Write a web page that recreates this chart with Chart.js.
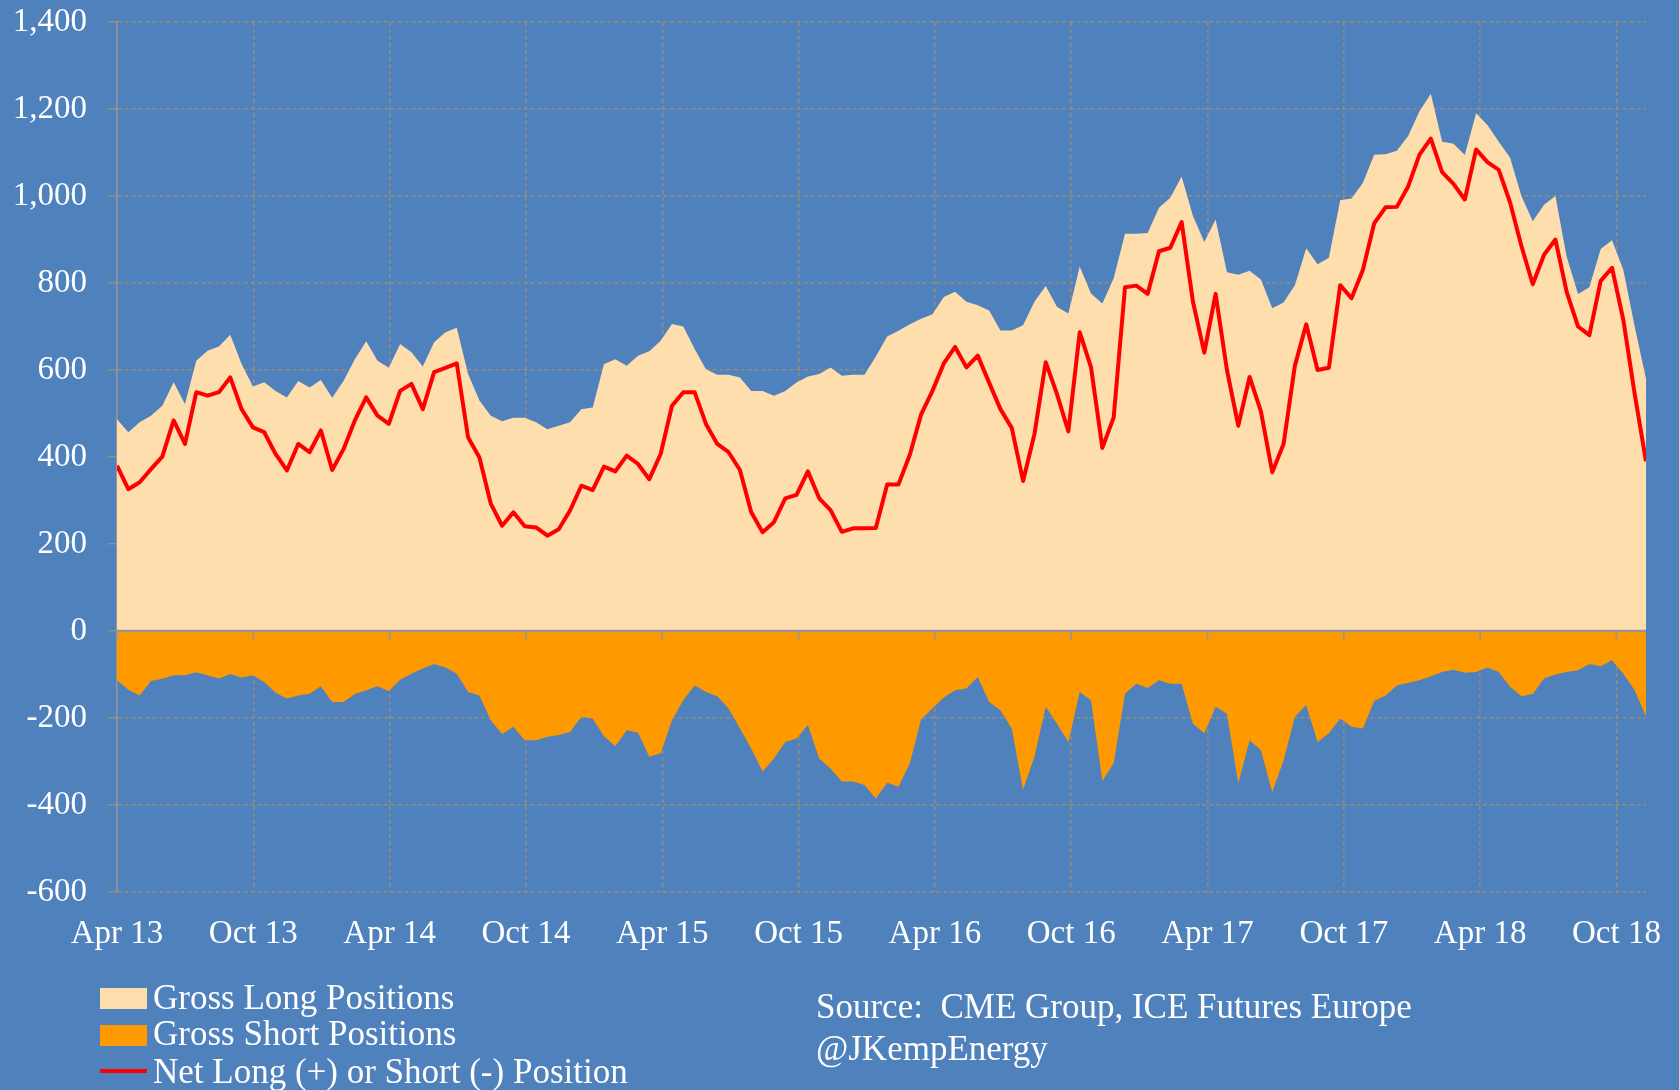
<!DOCTYPE html>
<html>
<head>
<meta charset="utf-8">
<script src="https://cdn.jsdelivr.net/npm/chart.js@4.4.1/dist/chart.umd.min.js"></script>
<style>
html, body { margin: 0; padding: 0; background: #4F81BD; overflow: hidden; }
#wrap { position: relative; width: 1679px; height: 1090px; overflow: hidden; background: #4F81BD; }
#c { position: absolute; left: 0; top: 0; }
.t { position: absolute; color: #ffffff; font-family: 'Liberation Serif', serif; font-size: 35px; line-height: 35px; white-space: pre; }
.sw { position: absolute; }
</style>
</head>
<body>
<div id="wrap">
  <canvas id="c" width="1679" height="1090"></canvas>
  <div class="sw" style="left:100px;top:988px;width:47px;height:21px;background:#FFDEAD;"></div>
  <div class="t" style="left:153px;top:980px;">Gross Long Positions</div>
  <div class="sw" style="left:100px;top:1025px;width:47px;height:21px;background:#FF9900;"></div>
  <div class="t" style="left:153px;top:1016px;">Gross Short Positions</div>
  <div class="sw" style="left:100px;top:1069px;width:47px;height:4px;background:#FF0000;"></div>
  <div class="t" style="left:153px;top:1054px;">Net Long (+) or Short (-) Position</div>
  <div class="t" style="left:816px;top:989px;">Source:  CME Group, ICE Futures Europe</div>
  <div class="t" style="left:816px;top:1031px;">@JKempEnergy</div>
</div>
<script>
// sample positions in months since April 2013 (0 = Apr 13), ~half-month steps up to mid-Nov 2018
const lastMonth = 67.3;
const sampleMonths = Array.from({length: 136}, (_, i) => i * lastMonth / 135);

// tick positions (months since Apr 2013) and their labels
const tickMonths = [0, 6, 12, 18, 24, 30, 36, 42, 48, 54, 60, 66];
const tickLabels = ['Apr 13', 'Oct 13', 'Apr 14', 'Oct 14', 'Apr 15', 'Oct 15',
                    'Apr 16', 'Oct 16', 'Apr 17', 'Oct 17', 'Apr 18', 'Oct 18'];

// Gross long positions
const grossLong = [
  487,457,480,495,518,572,522,621,644,654,
  681,614,562,572,552,537,575,560,577,536,
  575,625,666,621,605,660,641,608,664,687,
  697,591,530,495,482,490,490,480,464,472,
  480,510,514,614,625,610,633,643,667,706,
  700,648,602,589,589,583,552,552,541,552,
  571,585,591,606,587,589,589,631,677,690,
  705,718,728,768,780,757,749,737,691,691,
  703,757,793,745,730,838,776,753,811,913,
  913,915,973,996,1045,954,894,946,825,819,
  828,808,742,755,795,880,843,858,990,994,
  1030,1095,1096,1104,1138,1195,1235,1125,1120,1094,
  1190,1163,1125,1088,1000,942,980,1000,860,775,
  790,878,898,830,700,580
];

// Gross short positions (shown negative)
const grossShort = [
  -113,-135,-148,-115,-110,-102,-102,-95,-102,-109,
  -99,-107,-102,-117,-142,-155,-148,-144,-127,-163,
  -163,-145,-136,-127,-138,-112,-98,-86,-76,-84,
  -98,-140,-148,-205,-237,-220,-251,-251,-243,-239,
  -232,-197,-201,-242,-265,-228,-234,-289,-281,-205,
  -159,-125,-140,-150,-178,-224,-270,-323,-293,-255,
  -247,-216,-293,-316,-346,-346,-354,-385,-349,-358,
  -304,-203,-178,-153,-136,-132,-106,-163,-182,-224,
  -365,-289,-174,-213,-255,-140,-159,-345,-304,-144,
  -121,-131,-113,-121,-121,-213,-235,-174,-190,-350,
  -251,-274,-370,-297,-197,-170,-255,-235,-201,-220,
  -224,-161,-148,-125,-119,-113,-104,-94,-89,-96,
  -94,-84,-94,-128,-150,-145,-109,-100,-94,-90,
  -76,-81,-67,-98,-136,-196
];

// Net long (+) or short (-) position
const netPosition = [
  380,326,342,372,401,484,430,549,541,549,
  583,510,468,457,407,369,430,411,461,370,
  418,484,537,495,476,552,568,510,595,605,
  615,445,399,293,242,273,241,238,219,234,
  277,334,324,378,367,403,384,349,407,518,
  549,549,476,430,411,370,273,227,250,305,
  313,367,305,278,228,236,236,237,337,337,
  405,498,552,615,653,606,633,571,510,467,
  345,452,618,544,459,687,606,421,491,790,
  794,775,873,881,940,757,640,775,600,472,
  584,505,365,430,610,705,600,605,795,765,
  830,937,974,975,1022,1095,1132,1055,1028,992,
  1107,1078,1060,985,885,797,865,900,779,700,
  680,805,835,715,545,390
];

const toPoints = arr => arr.map((v, i) => ({x: sampleMonths[i], y: v}));

const gridColor = 'rgb(148,141,126)';
const axisGray = 'rgb(150,150,150)';

const zeroLine = {
  id: 'zeroLine',
  afterDatasetsDraw(chart) {
    const {ctx, chartArea, scales} = chart;
    const y0 = scales.y.getPixelForValue(0);
    ctx.save();
    ctx.strokeStyle = axisGray;
    ctx.lineWidth = 2.5;
    ctx.beginPath();
    ctx.moveTo(chartArea.left, y0);
    ctx.lineTo(chartArea.right, y0);
    ctx.stroke();
    ctx.lineWidth = 1.5;
    scales.x.ticks.forEach(t => {
      const px = scales.x.getPixelForValue(t.value);
      ctx.beginPath();
      ctx.moveTo(px, y0);
      ctx.lineTo(px, y0 + 9);
      ctx.stroke();
    });
    ctx.restore();
  }
};

Chart.defaults.font.family = "'Liberation Serif', serif";
Chart.defaults.color = '#ffffff';

new Chart(document.getElementById('c'), {
  type: 'line',
  data: {
    datasets: [
      {
        label: 'Net Long (+) or Short (-) Position',
        data: toPoints(netPosition),
        borderColor: '#FF0000',
        borderWidth: 4,
        borderJoinStyle: 'round',
        fill: false,
        pointRadius: 0,
        tension: 0,
        order: 0
      },
      {
        label: 'Gross Long Positions',
        data: toPoints(grossLong),
        borderColor: 'rgba(0,0,0,0)',
        borderWidth: 0,
        backgroundColor: '#FFDEAD',
        fill: 'origin',
        pointRadius: 0,
        tension: 0,
        order: 1
      },
      {
        label: 'Gross Short Positions',
        data: toPoints(grossShort),
        borderColor: 'rgba(0,0,0,0)',
        borderWidth: 0,
        backgroundColor: '#FF9900',
        fill: 'origin',
        pointRadius: 0,
        tension: 0,
        order: 2
      }
    ]
  },
  options: {
    responsive: false,
    animation: false,
    devicePixelRatio: 1,
    layout: { padding: { top: 22, right: 33, left: 0, bottom: 0 } },
    plugins: {
      legend: { display: false },
      tooltip: { enabled: false }
    },
    scales: {
      x: {
        type: 'linear',
        min: 0,
        max: lastMonth,
        afterBuildTicks: scale => { scale.ticks = tickMonths.map(v => ({value: v})); },
        afterFit: scale => { scale.height = 198; scale.paddingLeft = 0; scale.paddingRight = 0; },
        ticks: {
          autoSkip: false,
          maxRotation: 0,
          padding: 23,
          color: '#ffffff',
          font: { size: 33 },
          callback: v => { const k = tickMonths.indexOf(v); return k >= 0 ? tickLabels[k] : ''; }
        },
        grid: { color: gridColor, lineWidth: 1.5, drawTicks: false },
        border: { display: false, dash: [4, 3] }
      },
      y: {
        min: -600,
        max: 1400,
        afterFit: scale => { scale.width = 117; scale.paddingTop = 0; scale.paddingBottom = 0; },
        ticks: {
          stepSize: 200,
          padding: 21,
          color: '#ffffff',
          font: { size: 33 },
          callback: v => v.toLocaleString('en-US')
        },
        grid: { color: gridColor, lineWidth: 1.5, tickLength: 9, tickColor: gridColor },
        border: { display: true, color: axisGray, width: 1.5, dash: [4, 3] }
      }
    }
  },
  plugins: [zeroLine]
});
</script>
</body>
</html>
